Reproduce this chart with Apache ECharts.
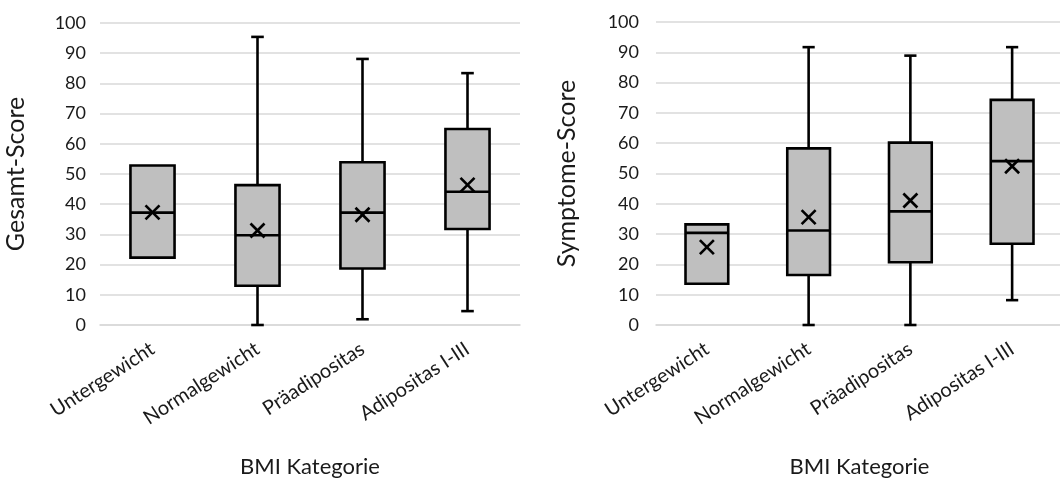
<!DOCTYPE html>
<html>
<head>
<meta charset="utf-8">
<script src="https://cdn.jsdelivr.net/npm/echarts@6/dist/echarts.min.js"></script>
<style>
  html, body { margin: 0; padding: 0; background: #fff; }
  #chart { width: 1060px; height: 482px; }
</style>
</head>
<body>
<div id="chart"></div>
<script>
// BMI categories shared by both panels
const categories = ['Untergewicht', 'Normalgewicht', 'Präadipositas', 'Adipositas I-III'];

// Gesamt-Score per category: [min, Q1, median, Q3, max]
const gesamtBoxes = [
  [22.3, 22.3, 37.2, 52.8, 52.8],
  [0, 13.0, 29.7, 46.3, 95.4],
  [1.9, 18.7, 37.2, 53.9, 88.1],
  [4.6, 31.8, 44.1, 64.9, 83.4]
];
const gesamtMeans = [37.3, 31.3, 36.5, 46.4];

// Symptome-Score per category: [min, Q1, median, Q3, max]
const symptomeBoxes = [
  [13.6, 13.6, 30.4, 33.2, 33.2],
  [0, 16.5, 31.2, 58.3, 91.7],
  [0, 20.7, 37.5, 60.2, 88.9],
  [8.2, 26.8, 54.1, 74.3, 91.7]
];
const symptomeMeans = [25.7, 35.6, 41.1, 52.4];

const yTicks = { min: 0, max: 100, interval: 10 };

const FONT = 'Lato';
const INK = '#000';
const TEXT = '#1a1a1a';

function renderBox(params, api) {
  const x = api.value(0);
  const lo = api.coord([x, api.value(1)]);
  const q1 = api.coord([x, api.value(2)]);
  const med = api.coord([x, api.value(3)]);
  const q3 = api.coord([x, api.value(4)]);
  const hi = api.coord([x, api.value(5)]);
  const mean = api.coord([x, api.value(6)]);
  const band = api.size([1, 0])[0];
  const bw = band * 0.42;
  const cap = band * 0.12;
  const cx = lo[0];
  const lw = 2.6;
  const lineStyle = { stroke: INK, lineWidth: lw, fill: null };
  const children = [];
  // whiskers with short end caps
  if (hi[1] < q3[1] - 0.5) {
    children.push({ type: 'line', shape: { x1: cx, y1: hi[1], x2: cx, y2: q3[1] }, style: lineStyle });
    children.push({ type: 'line', shape: { x1: cx - cap / 2, y1: hi[1], x2: cx + cap / 2, y2: hi[1] }, style: lineStyle });
  }
  if (lo[1] > q1[1] + 0.5) {
    children.push({ type: 'line', shape: { x1: cx, y1: q1[1], x2: cx, y2: lo[1] }, style: lineStyle });
    children.push({ type: 'line', shape: { x1: cx - cap / 2, y1: lo[1], x2: cx + cap / 2, y2: lo[1] }, style: lineStyle });
  }
  // interquartile box
  children.push({
    type: 'rect',
    shape: { x: cx - bw / 2, y: q3[1], width: bw, height: q1[1] - q3[1] },
    style: { fill: '#bfbfbf', stroke: INK, lineWidth: lw }
  });
  // median
  children.push({ type: 'line', shape: { x1: cx - bw / 2, y1: med[1], x2: cx + bw / 2, y2: med[1] }, style: lineStyle });
  // mean marker (x)
  const m = 7;
  children.push({ type: 'line', shape: { x1: cx - m, y1: mean[1] - m, x2: cx + m, y2: mean[1] + m }, style: { stroke: INK, lineWidth: 2.6 } });
  children.push({ type: 'line', shape: { x1: cx - m, y1: mean[1] + m, x2: cx + m, y2: mean[1] - m }, style: { stroke: INK, lineWidth: 2.6 } });
  return { type: 'group', children };
}

function seriesData(boxes, means) {
  return boxes.map((b, i) => [i, b[0], b[1], b[2], b[3], b[4], means[i]]);
}

function xAxisFor(gridIndex) {
  return {
    type: 'category',
    gridIndex,
    data: categories,
    boundaryGap: true,
    axisTick: { show: false },
    axisLine: { lineStyle: { color: '#d9d9d9', width: 1.6 } },
    axisLabel: { rotate: 33, margin: 22, fontFamily: FONT, fontSize: 20, color: TEXT, interval: 0 },
    name: 'BMI Kategorie',
    nameLocation: 'middle',
    nameGap: 131,
    nameTextStyle: { fontFamily: FONT, fontSize: 22, color: TEXT }
  };
}

function yAxisFor(gridIndex, name, gap, margin) {
  return {
    type: 'value',
    gridIndex,
    min: yTicks.min,
    max: yTicks.max,
    interval: yTicks.interval,
    axisLine: { show: false },
    axisTick: { show: false },
    splitLine: { lineStyle: { color: '#d9d9d9', width: 1.6 } },
    axisLabel: { margin, fontFamily: FONT, fontSize: 18, color: TEXT },
    name,
    nameLocation: 'middle',
    nameGap: gap,
    nameTextStyle: { fontFamily: FONT, fontSize: 25, color: TEXT }
  };
}

const chart = echarts.init(document.getElementById('chart'), null, { renderer: 'canvas' });
chart.setOption({
  animation: false,
  backgroundColor: '#fff',
  grid: [
    { left: 100, right: 540, top: 23, bottom: 157, outerBoundsMode: 'none', containLabel: false },
    { left: 656, right: -3, top: 22, bottom: 157, outerBoundsMode: 'none', containLabel: false }
  ],
  xAxis: [xAxisFor(0), xAxisFor(1)],
  yAxis: [
    yAxisFor(0, 'Gesamt-Score', 72, 14),
    yAxisFor(1, 'Symptome-Score', 77, 17)
  ],
  series: [
    {
      type: 'custom', xAxisIndex: 0, yAxisIndex: 0,
      renderItem: renderBox,
      encode: { x: 0, y: [1, 2, 3, 4, 5, 6] },
      data: seriesData(gesamtBoxes, gesamtMeans)
    },
    {
      type: 'custom', xAxisIndex: 1, yAxisIndex: 1,
      renderItem: renderBox,
      encode: { x: 0, y: [1, 2, 3, 4, 5, 6] },
      data: seriesData(symptomeBoxes, symptomeMeans)
    }
  ]
});
</script>
</body>
</html>
